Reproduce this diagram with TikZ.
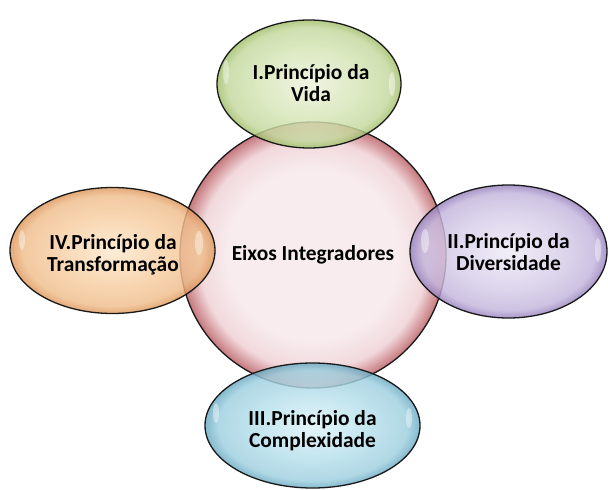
\documentclass[tikz,border=0pt]{standalone}
\usepackage{fontspec}
\setmainfont{Carlito}
\usetikzlibrary{shapes.geometric}
\definecolor{gIn}{RGB}{236,242,220}
\definecolor{gMid}{RGB}{212,228,180}
\definecolor{gOut}{RGB}{160,190,105}
\definecolor{oIn}{RGB}{253,232,205}
\definecolor{oMid}{RGB}{246,205,160}
\definecolor{oOut}{RGB}{222,150,90}
\definecolor{pIn}{RGB}{238,234,246}
\definecolor{pMid}{RGB}{214,204,232}
\definecolor{pOut}{RGB}{150,128,190}
\definecolor{bIn}{RGB}{222,242,248}
\definecolor{bMid}{RGB}{180,222,234}
\definecolor{bOut}{RGB}{105,170,195}
\definecolor{rIn}{RGB}{246,232,234}
\definecolor{rMid}{RGB}{238,208,212}
\definecolor{rOut}{RGB}{185,90,96}
\pgfdeclareradialshading{gshade}{\pgfpoint{0bp}{0bp}}{color(0bp)=(gIn); color(14bp)=(gMid); color(22bp)=(gMid!70!gOut); color(25bp)=(gOut); color(50bp)=(gOut)}
\pgfdeclareradialshading{oshade}{\pgfpoint{0bp}{0bp}}{color(0bp)=(oIn); color(14bp)=(oMid); color(22bp)=(oMid!70!oOut); color(25bp)=(oOut); color(50bp)=(oOut)}
\pgfdeclareradialshading{pshade}{\pgfpoint{0bp}{0bp}}{color(0bp)=(pIn); color(14bp)=(pMid); color(22bp)=(pMid!70!pOut); color(25bp)=(pOut); color(50bp)=(pOut)}
\pgfdeclareradialshading{bshade}{\pgfpoint{0bp}{0bp}}{color(0bp)=(bIn); color(14bp)=(bMid); color(22bp)=(bMid!70!bOut); color(25bp)=(bOut); color(50bp)=(bOut)}
\pgfdeclareradialshading{rshade}{\pgfpoint{0bp}{0bp}}{color(0bp)=(rIn); color(16bp)=(rIn); color(21.5bp)=(rMid); color(25bp)=(rOut); color(50bp)=(rOut)}
\tikzset{
  bubble/.style={ellipse, draw=black!90, line width=1.3bp, inner sep=0pt,
    fill opacity=0.82},
  caption/.style={align=center, inner sep=0pt,
    font=\fontsize{21.5}{22.5}\selectfont\bfseries},
  gloss/.style={fill=white, opacity=0.4, draw=none}
}
\begin{document}
\begin{tikzpicture}[x=1bp,y=-1bp]
\useasboundingbox (0,0) rectangle (608,490);
\node[bubble, shading=rshade, minimum width=266bp, minimum height=266bp] (center) at (313,255) {};
\node[bubble, shading=gshade, minimum width=184bp, minimum height=128bp] (vida) at (309,84) {};
\node[bubble, shading=oshade, minimum width=205bp, minimum height=126bp] (transf) at (112.5,250.5) {};
\node[bubble, shading=pshade, minimum width=197bp, minimum height=133bp] (divers) at (508.5,251.5) {};
\node[bubble, shading=bshade, minimum width=215bp, minimum height=125bp] (complex) at (312.5,425.5) {};
% gloss highlights
\fill[gloss] (226,72) ellipse (3bp and 12bp);
\fill[gloss] (392,84) ellipse (3bp and 12bp);
\fill[gloss] (22,240) ellipse (3bp and 10bp);
\fill[gloss] (199,243) ellipse (4bp and 12bp);
\fill[gloss] (425,241) ellipse (4bp and 12bp);
\fill[gloss] (598,250) ellipse (3bp and 12bp);
\fill[gloss] (216,413) ellipse (3bp and 10bp);
\fill[gloss] (409,418) ellipse (3bp and 10bp);
% captions
\node[caption] (tcenter) at (313,255) {Eixos Integradores};
\node[caption] (tvida) at (311,83) {I.Princípio da\\Vida};
\node[caption] (ttransf) at (113,254.5) {IV.Princípio da\\Transformação};
\node[caption] (tdivers) at (508.5,252) {II.Princípio da\\Diversidade};
\node[caption] (tcomplex) at (312.5,430.5) {III.Princípio da\\Complexidade};
\end{tikzpicture}
\end{document}
